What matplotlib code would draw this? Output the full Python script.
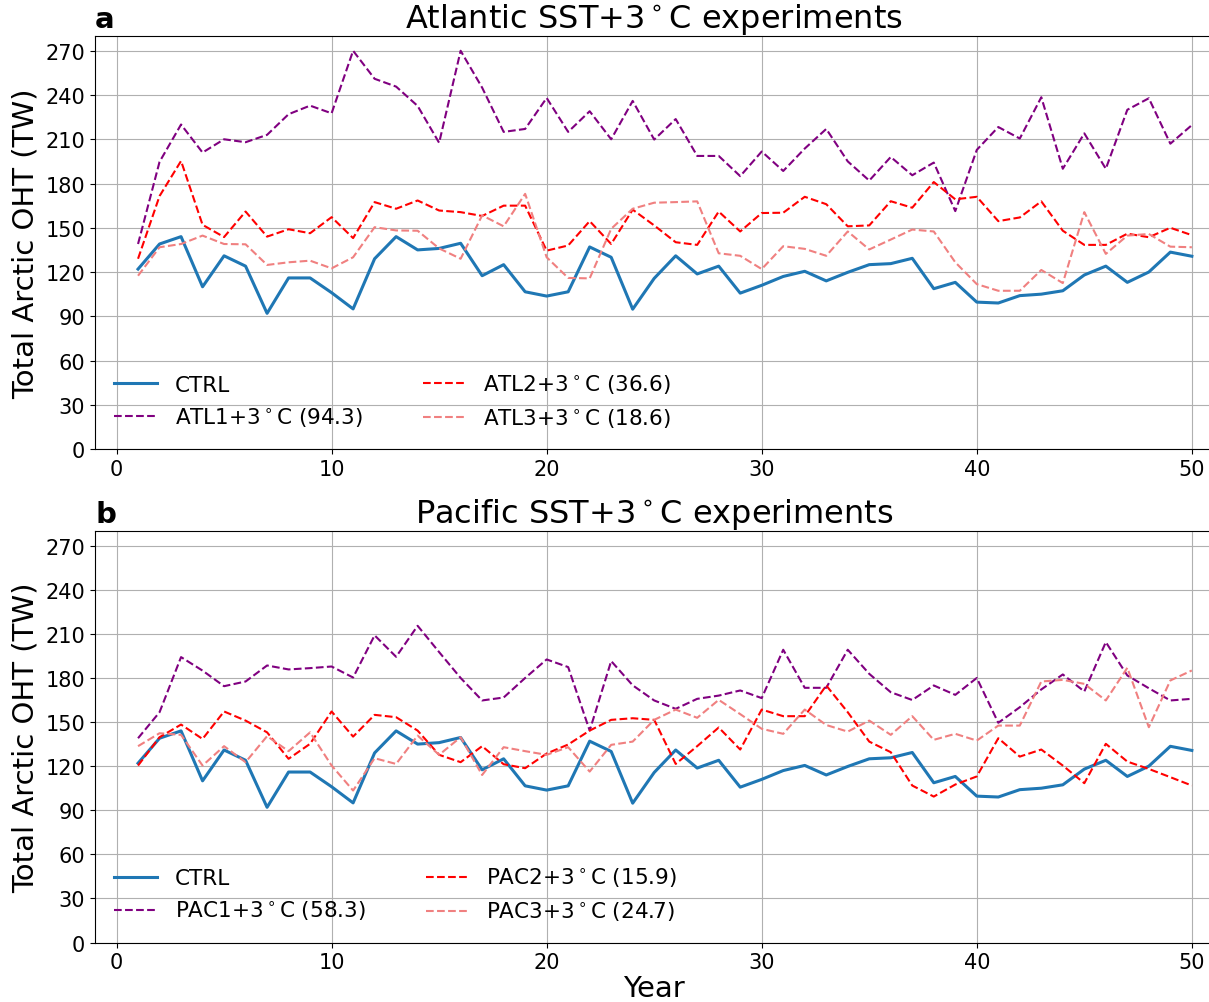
import matplotlib
matplotlib.use("Agg")
import matplotlib.pyplot as plt
import numpy as np

# datos (TW)
years = np.arange(1, 51)

ctrl = [122, 139, 144, 110, 131, 124, 92, 116, 116, 106,
        95, 129, 144, 135, 136, 139.5, 117.5, 125, 106.6, 103.7,
        106.6, 137, 130, 94.8, 115.7, 131, 118.7, 124, 105.7, 111,
        117, 120.5, 114, 119.8, 125, 125.7, 129.3, 108.7, 113, 99.6,
        99, 104, 105, 107.3, 118, 124, 113, 120, 133.5, 130.7]

atl1 = [139, 194.7, 220, 201, 210, 208, 213, 227, 232.8, 227.6,
        270, 251, 245.7, 232.6, 207.6, 270, 245, 215, 217, 238,
        215, 229, 210, 236, 209.8, 223.7, 198.7, 198.7, 185, 201.7,
        188.5, 203.7, 217, 195, 182, 198, 185.6, 194.2, 161.3, 202.8,
        218.3, 210.5, 238.5, 190, 214, 190, 230, 237.8, 207, 219.6]

atl2 = [129, 171.5, 195.3, 152, 143.7, 161, 144, 149, 146.3, 157.2,
        143, 167.4, 162.9, 168.5, 161.7, 160.6, 158, 165, 165, 134.5,
        138, 154.5, 139, 162.3, 151.6, 140.2, 138.4, 161, 147.5, 160,
        160.2, 171, 166, 151, 151.6, 168, 163.6, 181, 169.3, 171,
        154.5, 157, 167.9, 148, 138.4, 138.4, 146, 143.6, 150, 145]

atl3 = [117.5, 136.8, 139, 144.7, 139, 138.8, 124.8, 126.6, 127.7, 122.5,
        130, 150.4, 148.2, 148, 136, 129, 158.4, 151, 173, 130,
        116, 115.7, 149.3, 162.9, 167, 167.4, 167.9, 132.7, 131, 122,
        137.5, 135.7, 131, 147.5, 135.3, 142, 148.8, 147.5, 126.6, 111.8,
        107.3, 107.3, 121.4, 112.5, 160.6, 132.3, 144.7, 145.8, 137.2, 136.8]

pac1 = [139, 156.7, 194.2, 185, 174.4, 177.6, 188.5, 185.8, 186.7, 187.8,
        180.3, 209, 194.4, 215.5, 197.6, 180, 164.7, 166.7, 180, 192.6,
        187.4, 144.2, 191.5, 175, 164.7, 159, 165.8, 168, 171.5, 166.3,
        199.2, 173.3, 173.3, 199.2, 182.8, 170.3, 165, 174.9, 168.5, 180,
        149.5, 160.1, 172.2, 182.4, 170.8, 204.4, 181.7, 173, 164.7, 165.8]

pac2 = [120.4, 139.7, 148.3, 138.5, 157.2, 151, 143, 125, 135.2, 157.2,
        140.1, 154.9, 153.3, 144.2, 127.7, 122.7, 133.6, 121.3, 118.6, 128.6,
        134.7, 144.2, 151.5, 152.6, 151.5, 121.5, 133.6, 146.3, 131.3, 158.5,
        154, 154, 174.9, 156.7, 136.7, 129.5, 106.8, 99.3, 107.5, 113,
        139, 126.5, 131.3, 120.4, 108.4, 135.2, 123.1, 118.1, 112.5, 106.8]

pac3 = [133.6, 142.4, 141.3, 120.4, 133.6, 122.7, 140.4, 130.2, 143, 120.4,
        103.4, 125.4, 121.5, 140.8, 127.7, 139.7, 114, 132.9, 130.2, 127.7,
        132.9, 116.3, 134.5, 136.7, 151.5, 158.5, 152.9, 165.1, 155.4, 145.4,
        142, 158.5, 148, 143.5, 151, 141.3, 154, 137.9, 142, 137.4,
        147.6, 147.6, 177.6, 178.7, 176, 164.7, 186.9, 146.5, 178.3, 185.1]

atl_labels = ["ATL1+3$^\\circ$C (94.3)", "ATL2+3$^\\circ$C (36.6)", "ATL3+3$^\\circ$C (18.6)"]
pac_labels = ["PAC1+3$^\\circ$C (58.3)", "PAC2+3$^\\circ$C (15.9)", "PAC3+3$^\\circ$C (24.7)"]
colores = ["purple", "red", "lightcoral"]

fig = plt.figure(figsize=(12.09, 10.03), dpi=100)
ax1 = fig.add_axes([0.0786, 0.5513, 0.925, 0.4118])
ax2 = fig.add_axes([0.0786, 0.0593, 0.925, 0.4103])

paneles = [
    (ax1, "a", "Atlantic SST+3$^\\circ$C experiments", [atl1, atl2, atl3], atl_labels),
    (ax2, "b", "Pacific SST+3$^\\circ$C experiments", [pac1, pac2, pac3], pac_labels),
]

for ax, letra, titulo, series, etiquetas in paneles:
    ax.plot(years, ctrl, color="tab:blue", lw=2.2, label="CTRL")
    for s, lab, c in zip(series, etiquetas, colores):
        ax.plot(years, s, "--", color=c, lw=1.5, label=lab)
    ax.set_xlim(-1, 51)
    ax.set_ylim(0, 280)
    ax.set_yticks(np.arange(0, 271, 30))
    ax.set_xticks(np.arange(0, 51, 10))
    ax.grid(True)
    ax.tick_params(labelsize=15)
    ax.set_ylabel("Total Arctic OHT (TW)", fontsize=21)
    ax.set_title(titulo, fontsize=23)
    ax.set_title(letra, loc="left", fontsize=21, fontweight="bold")
    ax.legend(loc="lower left", ncol=2, frameon=False, fontsize=15.5,
              columnspacing=2.8)

ax2.set_xlabel("Year", fontsize=21, labelpad=1)

fig.savefig("out.png", dpi=100)
